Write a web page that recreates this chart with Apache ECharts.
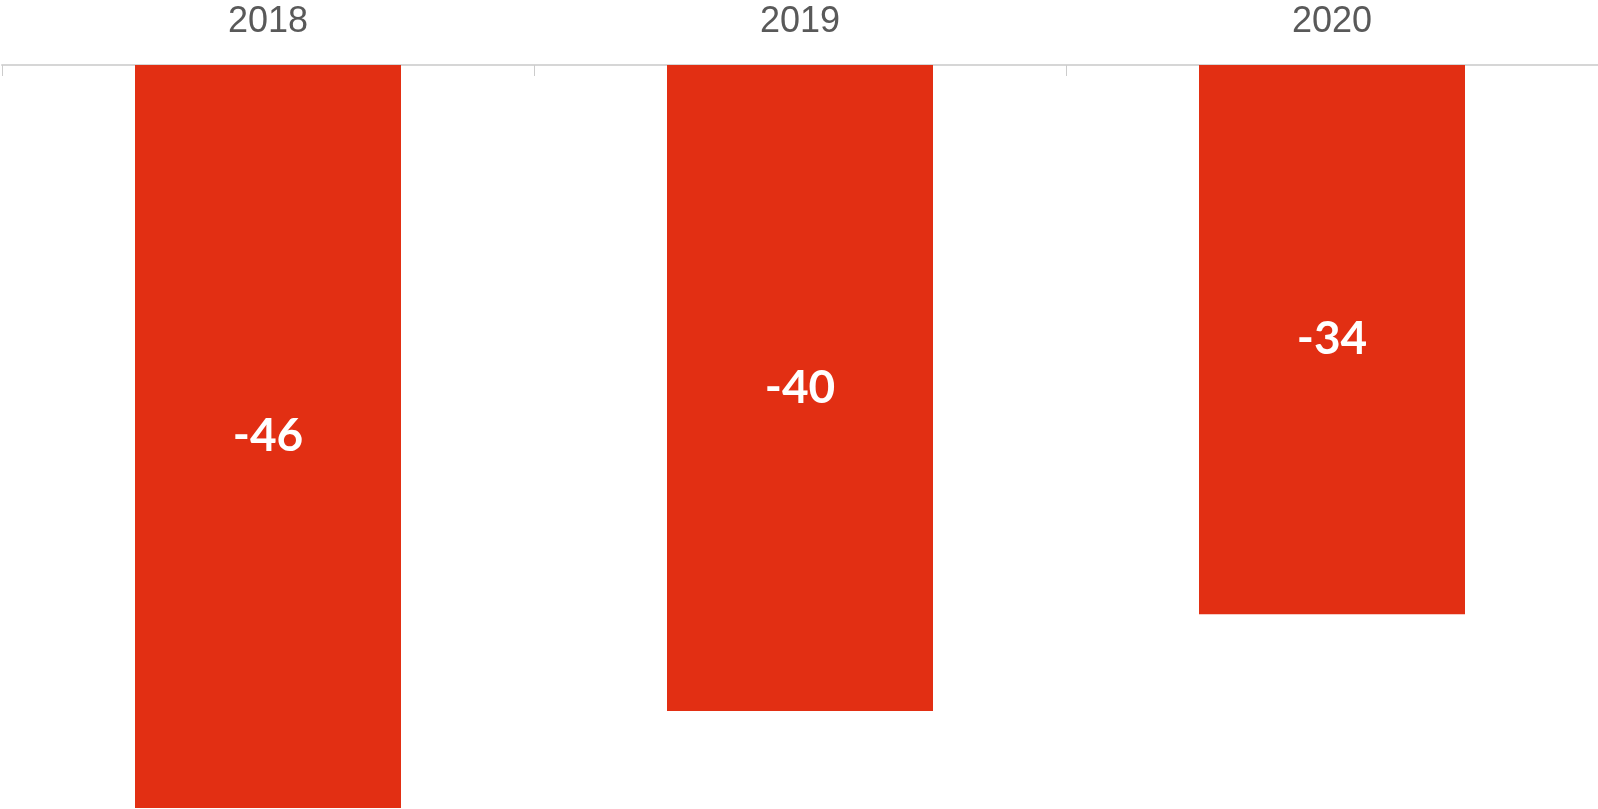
<!DOCTYPE html>
<html>
<head>
<meta charset="utf-8">
<script src="https://cdn.jsdelivr.net/npm/echarts@6/dist/echarts.min.js"></script>
<style>
  html, body { margin: 0; padding: 0; background: #ffffff; }
  #chart { width: 1598px; height: 809px; }
</style>
</head>
<body>
<div id="chart"></div>
<script>
// Yearly values shown as downward bars from a top axis
const years = ['2018', '2019', '2020'];
const values = [-46, -40, -34];

const chart = echarts.init(document.getElementById('chart'), null, { renderer: 'canvas' });

chart.setOption({
  animation: false,
  grid: { left: 2, right: 0, top: 65, bottom: 1, containLabel: false },
  xAxis: {
    type: 'category',
    position: 'top',
    data: years,
    axisLine: { show: true, lineStyle: { color: '#d6d6d6', width: 2 } },
    axisTick: { show: true, inside: true, length: 11, lineStyle: { color: '#cccccc', width: 1 } },
    axisLabel: {
      color: '#595959',
      fontFamily: 'Liberation Sans, Arial, sans-serif',
      fontSize: 36,
      margin: 25
    },
    splitLine: { show: false }
  },
  yAxis: {
    type: 'value',
    min: -46,
    max: 0,
    show: false,
    splitLine: { show: false }
  },
  series: [{
    type: 'bar',
    data: values,
    barWidth: '50%',
    itemStyle: { color: '#E22F13' },
    label: {
      show: true,
      position: 'inside',
      color: '#ffffff',
      fontFamily: 'Lato, Open Sans, sans-serif',
      fontWeight: 'bold',
      fontSize: 46
    }
  }]
});
</script>
</body>
</html>
